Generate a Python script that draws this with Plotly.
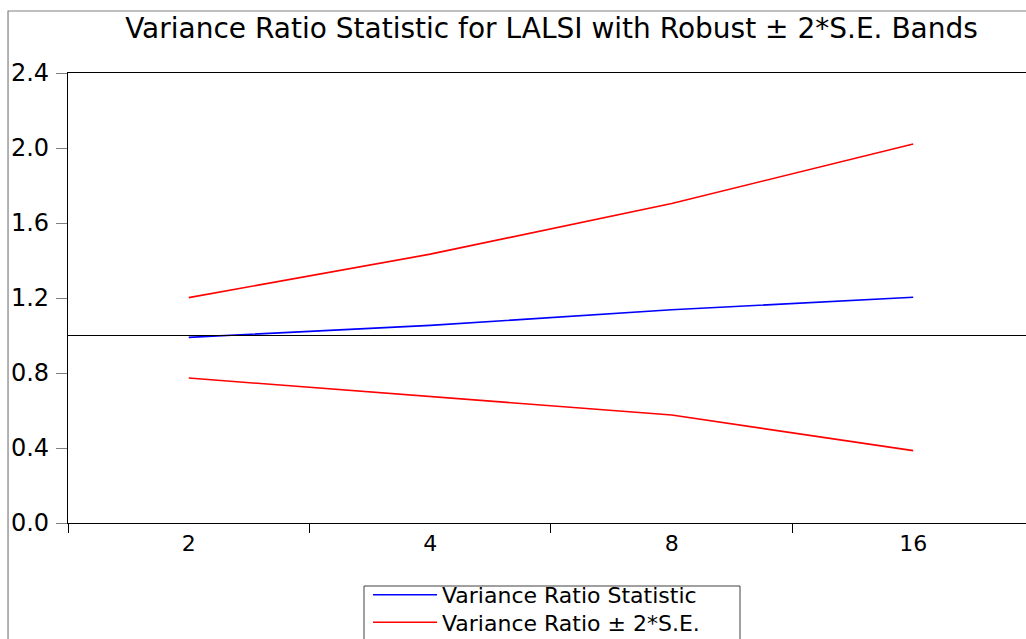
import plotly.graph_objects as go

# Variance ratio test results by holding period
periods = ["2", "4", "8", "16"]
vr_stat = [0.990, 1.054, 1.137, 1.204]
upper_band = [1.202, 1.434, 1.704, 2.021]
lower_band = [0.773, 0.676, 0.576, 0.386]
y_ticks = [0.0, 0.4, 0.8, 1.2, 1.6, 2.0, 2.4]

FONT = "DejaVu Sans"

fig = go.Figure()
fig.add_trace(go.Scatter(
    x=periods, y=vr_stat, mode="lines", name="Variance Ratio Statistic",
    legend="legend", line=dict(color="#0000FF", width=1.6),
))
fig.add_trace(go.Scatter(
    x=periods, y=upper_band, mode="lines", name="Variance Ratio ± 2*S.E.",
    legend="legend2", legendgroup="band", line=dict(color="#FF0000", width=1.6),
))
fig.add_trace(go.Scatter(
    x=periods, y=lower_band, mode="lines", name="Variance Ratio ± 2*S.E.",
    legend="legend2", legendgroup="band", showlegend=False,
    line=dict(color="#FF0000", width=1.6),
))

# Reference line at a ratio of one
fig.add_hline(y=1.0, line=dict(color="black", width=1))

# Outer frame of the graphic
fig.add_shape(type="rect", xref="paper", yref="paper",
              x0=-0.0626, x1=1.2, y0=-0.4, y1=1.1378,
              line=dict(color="#808080", width=1.2), layer="below")

# Frame around the legend entries
fig.add_shape(type="rect", xref="paper", yref="paper",
              x0=(364 - 68) / 958, x1=(740 - 68) / 958,
              y0=-0.4, y1=(523 - 586) / 450,
              line=dict(color="#404040", width=1), layer="below")

legend_style = dict(
    x=(368 - 68) / 958, xanchor="left", yanchor="top",
    font=dict(family=FONT, size=22, color="black"),
    borderwidth=0, bgcolor="rgba(0,0,0,0)",
    itemwidth=64, tracegroupgap=0,
)

fig.update_layout(
    width=1026, height=639,
    margin=dict(l=68, r=0, t=73, b=116, autoexpand=False),
    paper_bgcolor="white", plot_bgcolor="white",
    font=dict(family=FONT, color="black"),
    title=dict(
        text="Variance Ratio Statistic for LALSI with Robust ± 2*S.E. Bands",
        font=dict(family=FONT, size=28, color="black"),
        xref="paper", x=0.5047, xanchor="center",
        yref="container", y=1 - 28 / 639, yanchor="middle",
    ),
    showlegend=True,
    legend=dict(y=(523 - 574) / 450, **legend_style),
    legend2=dict(y=(523 - 601.5) / 450, **legend_style),
)

fig.update_xaxes(
    type="category", range=[-0.5, 3.467],
    showgrid=False, zeroline=False,
    showline=True, linecolor="black", linewidth=1.2, mirror=True,
    ticks="outside", tickson="boundaries", ticklen=9, tickcolor="black",
    tickfont=dict(family=FONT, size=22, color="black"),
)
fig.update_yaxes(
    range=[0, 2.4], tickvals=y_ticks, tickformat=".1f",
    showgrid=False, zeroline=False,
    showline=True, linecolor="black", linewidth=1.2, mirror=False,
    ticks="outside", ticklen=11, tickcolor="#808080",
    tickfont=dict(family=FONT, size=24, color="black"),
    ticklabelstandoff=2,
)

fig.write_html("out.html")
